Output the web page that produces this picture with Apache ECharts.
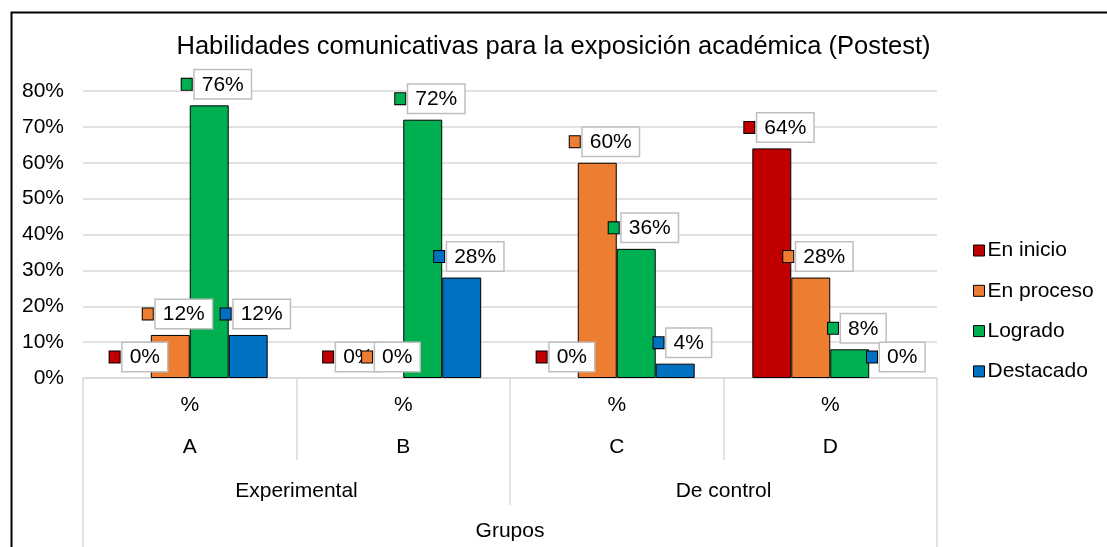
<!DOCTYPE html>
<html>
<head>
<meta charset="utf-8">
<script src="https://cdn.jsdelivr.net/npm/echarts@6/dist/echarts.min.js"></script>
<style>html,body{margin:0;padding:0;background:#fff;}#c{width:1107px;height:547px;}</style>
</head>
<body>
<div id="c"></div>
<script>
const title = 'Habilidades comunicativas para la exposición académica (Postest)';
const groups = ['A', 'B', 'C', 'D'];
const groupTypes = ['Experimental', 'De control'];
const axisTitle = ['Grupos'];
const seriesNames = ['En inicio', 'En proceso', 'Logrado', 'Destacado'];
const enInicio = [0, 0, 0, 64];
const enProceso = [12, 0, 60, 28];
const logrado = [76, 72, 36, 8];
const destacado = [12, 28, 4, 0];
const colors = ['#C00000', '#ED7D31', '#00B050', '#0070C0'];
const values = [enInicio, enProceso, logrado, destacado];

const FONT = 'Liberation Sans, Arial, sans-serif';
const chart = echarts.init(document.getElementById('c'), null, {renderer: 'canvas'});

const series = seriesNames.map((name, i) => ({
  name: name,
  type: 'bar',
  data: values[i].map(v => ({value: v, itemStyle: {borderWidth: v === 0 ? 0 : 1}})),
  barGap: '0%',
  barCategoryGap: '27%',
  itemStyle: {color: colors[i], borderColor: '#000', borderWidth: 1},
  label: {
    show: true,
    position: 'top',
    distance: 7,
    offset: [7, 0],
    formatter: p => '{sq| }{sp| }{box|' + p.value + '%}',
    rich: {
      sq: {width: 10, height: 11, backgroundColor: colors[i], borderColor: '#000', borderWidth: 1, verticalAlign: 'middle'},
      sp: {width: 3, verticalAlign: 'middle'},
      box: {fontFamily: FONT, fontSize: 21, color: '#000', backgroundColor: '#fff', borderColor: '#bfbfbf', borderWidth: 1.5, padding: [4, 7, 3, 7], verticalAlign: 'middle'}
    }
  }
}));

chart.setOption({
  animation: false,
  backgroundColor: '#fff',
  title: {
    text: title, left: 'center', top: 29,
    textStyle: {fontFamily: FONT, fontSize: 25.5, fontWeight: 'normal', color: '#000'}
  },
  legend: {
    orient: 'vertical', left: 968, top: 235,
    itemWidth: 11, itemHeight: 11, itemGap: 19.3,
    icon: 'rect',
    itemStyle: {borderColor: '#000', borderWidth: 1},
    textStyle: {fontFamily: FONT, fontSize: 21, color: '#000', padding: [0, 0, 0, -2]},
    data: seriesNames
  },
  graphic: [{
    type: 'rect', left: 9, top: 10, shape: {width: 1300, height: 700},
    style: {fill: 'none', stroke: '#000', lineWidth: 2}, silent: true
  }],
  grid: {left: 83, right: 170, top: 91, bottom: 169, containLabel: false},
  yAxis: {
    type: 'value', min: 0, max: 80, interval: 10,
    axisLine: {show: false}, axisTick: {show: false},
    axisLabel: {formatter: '{value}%', fontFamily: FONT, fontSize: 21, color: '#000', margin: 19},
    splitLine: {lineStyle: {color: '#d9d9d9', width: 1.5}}
  },
  xAxis: [
    {
      type: 'category', data: groups, position: 'bottom',
      axisLine: {lineStyle: {color: '#d9d9d9', width: 1.5}},
      axisTick: {show: true, length: 82, lineStyle: {color: '#d9d9d9', width: 1.5}},
      axisLabel: {formatter: v => '%\n' + v, fontFamily: FONT, fontSize: 21, color: '#000', lineHeight: 42, margin: 6}
    },
    {
      type: 'category', data: groupTypes, position: 'bottom',
      axisLine: {show: false},
      axisTick: {show: true, length: 127, lineStyle: {color: '#d9d9d9', width: 1.5}},
      axisLabel: {fontFamily: FONT, fontSize: 21, color: '#000', margin: 103}
    },
    {
      type: 'category', data: axisTitle, position: 'bottom',
      axisLine: {show: false},
      axisTick: {show: true, length: 175, lineStyle: {color: '#d9d9d9', width: 1.5}},
      axisLabel: {fontFamily: FONT, fontSize: 21, color: '#000', margin: 143}
    }
  ],
  series: series
});
</script>
</body>
</html>
